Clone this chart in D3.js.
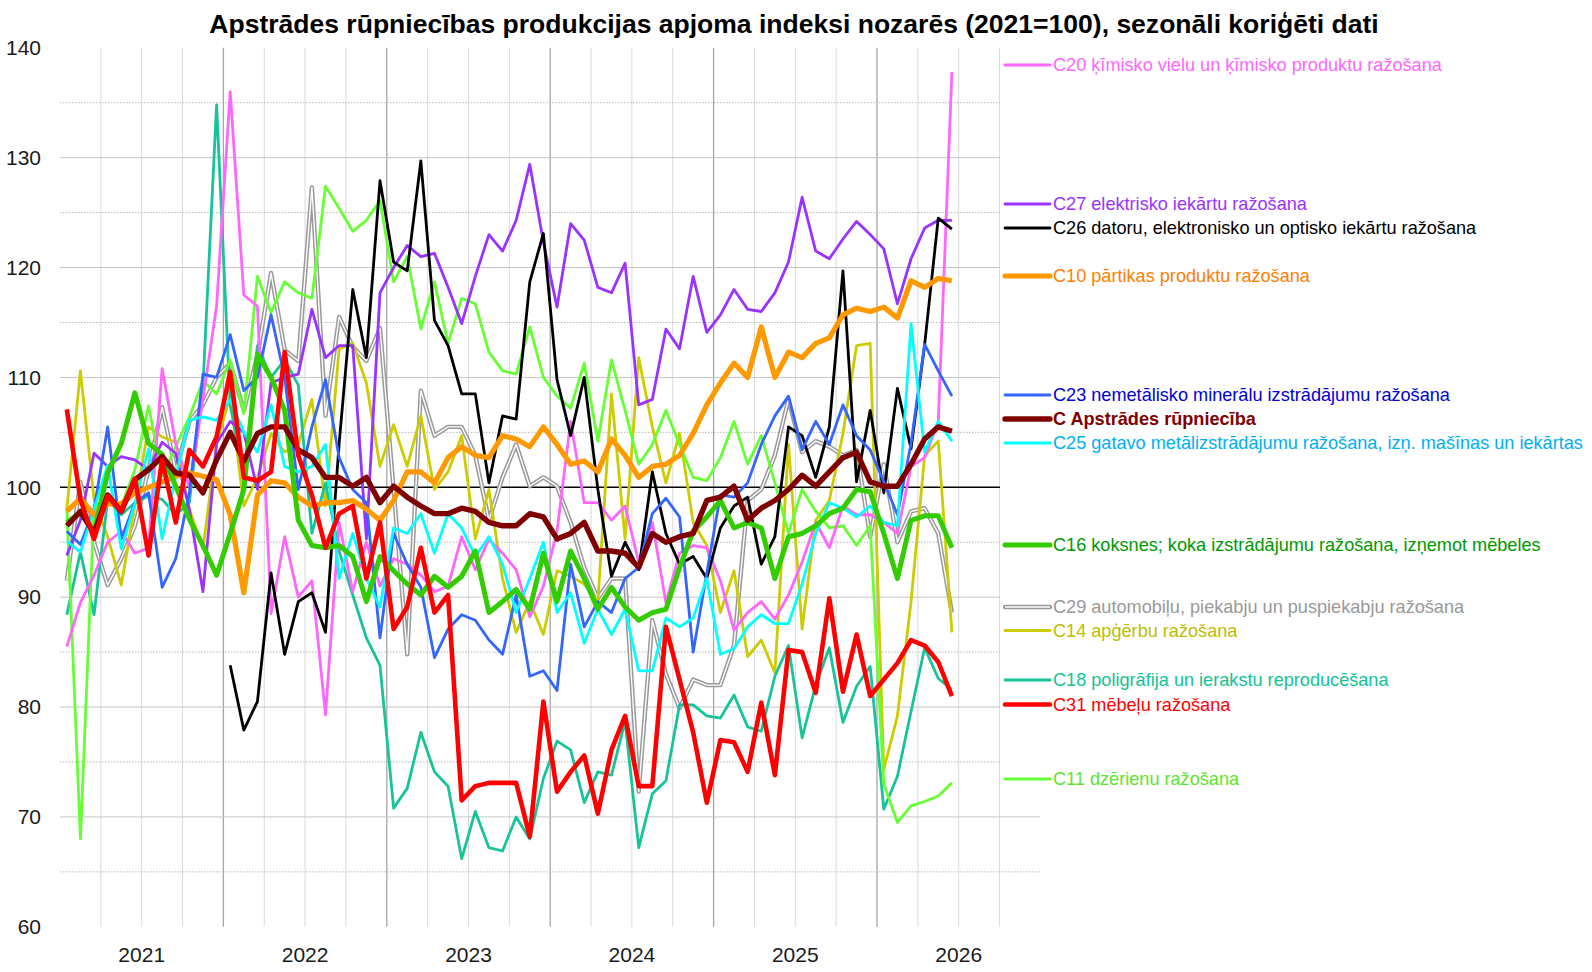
<!DOCTYPE html>
<html>
<head>
<meta charset="utf-8">
<script src="https://cdn.jsdelivr.net/npm/d3@7"></script>
<style>
  body { margin: 0; background: #fff; }
  svg { display: block; font-family: "Liberation Sans", Arial, sans-serif; }
</style>
</head>
<body>
<div id="chart"></div>
<script>
// Dati: mēneši no 2021. gada janvāra (66 vērtības), 2021=100
const years = ['2021', '2022', '2023', '2024', '2025', '2026'];
const yTicks = [60, 70, 80, 90, 100, 110, 120, 130, 140];

const c20 = [85.5, 89.5, 92, 95, 96, 94, 94.5, 110.8, 104, 100, 108, 116.5,
  136, 117.5, 116.5, 88.5, 95.5, 90, 91.5, 79.3, 96.8, 90.5, 95, 91,
  93.5, 93, 92, 90.5, 91, 95.5, 92.5, 95.3, 94, 92.5, 88.2, 91,
  96, 106, 98.6, 98.6, 97, 98.3, 93.2, 96.8, 89.5, 94, 94.7, 94.5,
  91.5, 87, 88.6, 89.6, 88, 90.2, 93.2, 96.8, 94.5, 98.3, 97.5, 97.5,
  96.8, 95.8, 101.9, 102.7, 106, 137.8];
const c27 = [93.8, 97, 103.1, 101.9, 102.8, 102.5, 101.6, 104.1, 103.1, 98, 90.5, 104,
  106, 105, 99.8, 109.5, 110, 110.3, 116.2, 111.8, 112.9, 112.9, 95.3, 117.7,
  120, 122, 121, 121.3, 118.2, 114.9, 119.2, 123, 121.5, 124.3, 129.4, 122.3,
  116.4, 124, 122.5, 118.2, 117.7, 120.4, 107.5, 108, 114.4, 112.6, 119.2, 114.1,
  115.7, 118, 116.2, 116, 117.7, 120.5, 126.4, 121.5, 120.8, 122.6, 124.2, 123,
  121.7, 116.7, 120.8, 123.6, 124.3, 124.3];
const c26 = [null, null, null, null, null, null, null, null, null, null, null, null,
  83.8, 77.9, 80.5, 92.2, 84.8, 89.6, 90.4, 86.8, 104, 118, 111.8, 127.9,
  120.5, 119.7, 129.7, 115.2, 112.9, 108.5, 108.5, 100.4, 106.5, 106.2, 118.7, 123.1,
  109.8, 104.7, 110, 99.8, 91.9, 95, 92.5, 101.4, 95.8, 93, 93.7, 91.7,
  96.3, 98.3, 99.1, 93, 95.5, 105.5, 104.7, 100.9, 105.5, 119.7, 100.5, 107,
  99.5, 109, 103.5, 113, 124.5, 123.5];
const c10 = [97.8, 99, 97.5, 98.5, 98.5, 99.5, 100, 100.5, 101, 101.3, 101, 100.7,
  97.5, 90.4, 99.3, 100.6, 100.4, 99.1, 98.3, 98.6, 98.6, 98.8, 98, 97,
  98.8, 101.4, 101.4, 100.4, 102.7, 103.7, 102.9, 102.7, 104.7, 104.4, 103.7, 105.5,
  103.9, 102.1, 102.4, 101.4, 104.4, 102.9, 100.9, 101.9, 102.1, 102.9, 104.9, 107.5,
  109.5, 111.3, 110, 114.6, 110, 112.3, 111.8, 113.1, 113.6, 115.7, 116.3, 116,
  116.4, 115.4, 118.8, 118.2, 119, 118.8];
const c23 = [96, 94.8, 98, 105.5, 95.3, 98.6, 99.5, 90.9, 93.5, 99.5, 110.3, 110,
  113.9, 108.8, 110, 115.7, 110, 99.8, 105.5, 109.8, 102.7, 99.8, 98.6, 86.3,
  95.8, 93, 90.9, 84.5, 87.1, 88.4, 87.9, 86.1, 84.8, 90.2, 82.8, 83.3,
  81.5, 93, 87.3, 89.6, 88.6, 91.7, 92.7, 97.6, 99, 97.3, 85, 92.2,
  99.3, 99.1, 100.4, 103.9, 106.5, 108.3, 103.4, 106, 103.9, 107.5, 104.7, 103.4,
  100.5, 97.5, 104, 113, 110.6, 108.3];
const cTotal = [96.5, 97.8, 95.8, 99.3, 97.8, 100.7, 101.6, 102.8, 101.3, 101.1, 99.5, 102.5,
  105, 102.4, 104.9, 105.5, 105.5, 103.4, 102.7, 100.9, 100.9, 100.1, 100.9, 98.6,
  100.1, 99.1, 98.3, 97.6, 97.6, 98.1, 97.8, 96.8, 96.5, 96.5, 97.6, 97.3,
  95.3, 95.8, 96.8, 94.2, 94.2, 94, 92.7, 95.8, 95, 95.5, 95.8, 98.8,
  99.1, 100.1, 97, 98.1, 98.8, 99.8, 101.1, 100.1, 101.4, 102.7, 103.2, 100.5,
  100.1, 100.1, 102.1, 104.4, 105.5, 105.1];
const c25 = [95.1, 94.1, 98, 102, 94.4, 98.5, 103.5, 95.3, 101, 106.1, 106.4, 106.1,
  108, 105, 103.2, 107.5, 101.9, 101.4, 101.9, 103.9, 91.7, 95.8, 91.7, 89.1,
  96.3, 95.8, 97.6, 94, 97.6, 96.3, 93.7, 95.5, 93, 88.6, 91.7, 95,
  88.6, 90.4, 85.8, 88.9, 86.6, 88.9, 83.3, 83.3, 88.1, 87.3, 88.1, 91.7,
  84.8, 85.3, 87.3, 88.4, 87.6, 87.6, 91.2, 95.8, 98.6, 98.1, 97.3, 98.3,
  96.8, 96.5, 114.9, 103.2, 106, 104.2];
const c16 = [96.8, 97.7, 95.9, 101.3, 104, 108.6, 104, 103, 100.1, 97.1, 94.7, 92,
  95.8, 99.8, 112.1, 110, 107, 97, 94.7, 94.5, 94.7, 93.7, 89.6, 93.7,
  92.4, 91.2, 90.2, 91.9, 90.9, 91.9, 94.2, 88.6, 89.6, 90.7, 88.9, 94,
  89.6, 94.2, 91.7, 88.9, 90.9, 89.1, 87.9, 88.6, 88.9, 92.7, 96, 97.3,
  98.8, 96.3, 96.8, 96.3, 91.7, 95.5, 95.8, 96.5, 97.6, 98.1, 99.8, 99.6,
  95.8, 91.7, 97, 97.4, 97.4, 94.5];
const c29 = [91.5, 100.5, 95, 91.1, 93.5, 96.5, 101.6, 107.3, 101.5, 106, 107.5, 110,
  111.3, 107, 112, 119.5, 112.5, 111.5, 127.3, 106.5, 115.5, 112.8, 111.5, 114.5,
  99.8, 84.8, 108.8, 104.7, 105.5, 105.5, 102.9, 97, 100.9, 103.9, 100.1, 100.9,
  100.1, 96.8, 92.7, 89.9, 91.7, 91.7, 72.3, 87.9, 83, 79.9, 82.5, 82,
  82, 85.6, 98.8, 99.8, 102.9, 108, 103.2, 104.2, 103.7, 102.9, 103.4, 95.5,
  102.1, 95, 97.8, 98.1, 95.8, 88.6];
const c14 = [98, 110.6, 98.9, 95.5, 91.1, 98.3, 105.5, 104.6, 104.1, 98, 94.4, 104,
  108.3, 98.3, 100.9, 104.9, 103.2, 103.9, 108, 98.3, 112.6, 113.1, 109.5, 101.9,
  105.7, 101.9, 106.5, 99.8, 101.4, 104.7, 95.3, 99.8, 91.7, 86.8, 89.6, 86.6,
  92.4, 91.9, 91.2, 89.6, 108.5, 95.3, 111.8, 105.5, 100.4, 104.9, 96.8, 94.7,
  88.6, 92.4, 84.6, 86.1, 83.1, 103.9, 87.1, 97, 98.8, 104.9, 112.9, 113.1,
  74.3, 79.2, 89.6, 102.9, 104.2, 86.8];
const c18 = [88.4, 94.1, 88.4, 98.9, 97.5, 98.6, 99.2, 98.9, 97.5, 98.6, 109.3, 134.8,
  107.5, 100.9, 112.9, 110, 111.6, 109.3, 95.8, 100.4, 94.2, 90.2, 86.3, 83.8,
  70.8, 72.6, 77.7, 74.1, 72.8, 66.2, 70.5, 67.2, 66.9, 70, 68, 73.5,
  76.9, 76.1, 71.3, 74.1, 73.8, 78.7, 67.2, 72.1, 73.3, 80.2, 80.2, 79.2,
  79, 81.1, 78.2, 77.8, 82.8, 85.6, 77.2, 82, 85.4, 78.6, 81.9, 83.7,
  70.7, 73.7, 79.6, 85.4, 82.6, 81.6];
const c31 = [107.1, 98.9, 95.3, 99.2, 97.8, 100.8, 93.8, 102.5, 96.8, 103.4, 101.9, 104.6,
  110.5, 100.9, 100.6, 101.4, 112.3, 102.9, 99.3, 94.5, 97.6, 98.3, 91.7, 96.8,
  87.1, 89.1, 94.5, 88.6, 90.2, 71.5, 72.8, 73.1, 73.1, 73.1, 68.2, 80.5,
  72.3, 74.1, 75.6, 70.3, 76.1, 79.2, 72.8, 72.8, 87.3, 82.5, 77.7, 71.3,
  77, 76.8, 74.1, 80.4, 73.8, 85.2, 85, 81.3, 89.9, 81.4, 86.6, 81,
  82.5, 84, 86.1, 85.6, 84.1, 81];
const c11 = [98.1, 68, 98.3, 98.9, 98.3, 101.6, 107.4, 101, 103.7, 106.4, 109.7, 108.5,
  111.6, 106.7, 119.2, 115.9, 118.7, 117.7, 117.2, 127.4, 125.4, 123.3, 124.3, 126.1,
  118.7, 121, 114.4, 118.7, 113.1, 117.2, 116.7, 112.3, 110.6, 110.3, 114.6, 110,
  108.3, 107.2, 111.3, 104.2, 111.6, 107, 102.1, 103.9, 107, 103.9, 100.9, 100.6,
  102.7, 106, 102.1, 104.7, 100.4, 95.8, 99.8, 97.8, 96.3, 96.5, 94.7, 96.5,
  73, 69.5, 71, 71.4, 71.9, 73.1];

// Sērijas leģendas secībā
const series = [
  { name: 'C20 ķīmisko vielu un ķīmisko produktu ražošana', values: c20, color: '#ff66ff', text: '#ff66ff', w: 2.8 },
  { name: 'C27 elektrisko iekārtu ražošana', values: c27, color: '#9933ff', text: '#9933ff', w: 2.8 },
  { name: 'C26 datoru, elektronisko un optisko iekārtu ražošana', values: c26, color: '#000000', text: '#000000', w: 2.8 },
  { name: 'C10 pārtikas produktu ražošana', values: c10, color: '#ff9900', text: '#ff8000', w: 5.2 },
  { name: 'C23 nemetālisko minerālu izstrādājumu ražošana', values: c23, color: '#3366ff', text: '#0000dd', w: 2.8 },
  { name: 'C Apstrādes rūpniecība', values: cTotal, color: '#800000', text: '#800000', w: 5.4, bold: true },
  { name: 'C25 gatavo metālizstrādājumu ražošana, izņ. mašīnas un iekārtas', values: c25, color: '#00ffff', text: '#00b0f0', w: 2.8 },
  { name: 'C16 koksnes; koka izstrādājumu ražošana, izņemot mēbeles', values: c16, color: '#33cc00', text: '#009900', w: 5 },
  { name: 'C29 automobiļu, piekabju un puspiekabju ražošana', values: c29, color: '#999999', text: '#999999', w: 4.4, double: true },
  { name: 'C14 apģērbu ražošana', values: c14, color: '#cccc00', text: '#bdbd00', w: 2.8 },
  { name: 'C18 poligrāfija un ierakstu reproducēšana', values: c18, color: '#17c498', text: '#11c495', w: 2.8 },
  { name: 'C31 mēbeļu ražošana', values: c31, color: '#ff0000', text: '#ff0000', w: 4.6 },
  { name: 'C11 dzērienu ražošana', values: c11, color: '#66ff33', text: '#5ce62e', w: 2.8 }
];
// leģendas rindu vertikālie centri (px)
const legendY = [65, 204, 228, 276, 395, 419, 443, 545, 607, 630.5, 680, 704.5, 779];
// zīmēšanas secība (apakšā -> augšā)
const drawOrder = [8, 9, 10, 12, 0, 1, 2, 4, 6, 3, 7, 5, 11];

const width = 1592, height = 972;
const plotLeft = 60, plotRight = 1040.4, plotTop = 47.8, plotBottom = 926.8;
const gridRight = 1000;

const svg = d3.select('#chart').append('svg')
  .attr('width', width)
  .attr('height', height);

const months = d3.range(72);
const x = d3.scaleBand().domain(months).range([plotLeft, plotRight]);
const xYear = d3.scaleBand().domain(years).range([plotLeft, plotRight]);
const y = d3.scaleLinear().domain([60, 140]).range([plotBottom, plotTop]);
const mx = i => x(i) + x.bandwidth() / 2;

// Vertikālās režģa līnijas (ceturkšņi, gadi)
const quarterEdges = d3.range(3, 70, 3);
svg.append('g').selectAll('line')
  .data(quarterEdges)
  .join('line')
  .attr('x1', d => x(d)).attr('x2', d => x(d))
  .attr('y1', plotTop).attr('y2', plotBottom)
  .attr('stroke', d => d % 12 === 0 ? '#a6a6a6' : '#dadada')
  .attr('stroke-width', d => d % 12 === 0 ? 1.3 : 1);

// Horizontālās režģa līnijas
const hLines = d3.range(65, 140, 5);
svg.append('g').selectAll('line')
  .data(hLines)
  .join('line')
  .attr('x1', plotLeft)
  .attr('x2', d => d <= 70 ? plotRight : gridRight)
  .attr('y1', d => y(d)).attr('y2', d => y(d))
  .attr('stroke', d => d === 100 ? '#000' : (d % 10 === 0 ? '#c4c4c4' : '#b8b8b8'))
  .attr('stroke-width', d => d === 100 ? 1.4 : 1)
  .attr('stroke-dasharray', d => d % 10 === 0 ? null : '1.5,1.5');

// Asis
const yAxis = svg.append('g')
  .attr('transform', `translate(${plotLeft},0)`)
  .call(d3.axisLeft(y).tickValues(yTicks).tickSize(0).tickPadding(19));
yAxis.select('.domain').remove();
yAxis.selectAll('text')
  .attr('font-size', 21)
  .attr('fill', '#1a1a1a')
  .attr('font-family', '"Liberation Sans", Arial, sans-serif');

const xAxis = svg.append('g')
  .attr('transform', `translate(0,${plotBottom})`)
  .call(d3.axisBottom(xYear).tickSize(0).tickPadding(20));
xAxis.select('.domain').remove();
xAxis.selectAll('text')
  .attr('font-size', 21)
  .attr('fill', '#1a1a1a')
  .attr('font-family', '"Liberation Sans", Arial, sans-serif');

// Līnijas
const line = d3.line()
  .defined(d => d != null)
  .x((d, i) => mx(i))
  .y(d => y(d));

const linesG = svg.append('g');
drawOrder.forEach(k => {
  const s = series[k];
  linesG.append('path')
    .datum(s.values)
    .attr('fill', 'none')
    .attr('stroke', s.color)
    .attr('stroke-width', s.w)
    .attr('stroke-linejoin', 'round')
    .attr('d', line);
  if (s.double) {
    linesG.append('path')
      .datum(s.values)
      .attr('fill', 'none')
      .attr('stroke', '#fff')
      .attr('stroke-width', 1.4)
      .attr('stroke-linejoin', 'round')
      .attr('d', line);
  }
});

// Leģenda (balts fons virs režģa labajā pusē)
svg.append('rect')
  .attr('x', gridRight + 1.5).attr('y', 40)
  .attr('width', width - gridRight).attr('height', 752)
  .attr('fill', '#fff');

const leg = svg.append('g');
series.forEach((s, k) => {
  const ly = legendY[k];
  leg.append('line')
    .attr('x1', 1005).attr('x2', 1050)
    .attr('y1', ly).attr('y2', ly)
    .attr('stroke', s.color)
    .attr('stroke-width', s.w)
    .attr('stroke-linecap', 'round');
  if (s.double) {
    leg.append('line')
      .attr('x1', 1005).attr('x2', 1050)
      .attr('y1', ly).attr('y2', ly)
      .attr('stroke', '#fff')
      .attr('stroke-width', 1.4);
  }
  leg.append('text')
    .attr('class', 'leg')
    .attr('x', 1053).attr('y', ly)
    .attr('dy', '0.35em')
    .attr('fill', s.text)
    .attr('font-weight', s.bold ? 'bold' : null)
    .attr('font-size', 17)
    .text(s.name);
});

// Virsraksts
const title = svg.append('text')
  .attr('x', 794).attr('y', 33)
  .attr('text-anchor', 'middle')
  .attr('font-weight', 'bold')
  .attr('font-size', 24)
  .attr('fill', '#000')
  .text('Apstrādes rūpniecības produkcijas apjoma indeksi nozarēs (2021=100), sezonāli koriģēti dati');

// pielāgo virsraksta un leģendas izmēru oriģinālajam platumam
const tw = title.node().getComputedTextLength();
title.attr('font-size', 24 * 1170 / tw);
const lw = leg.select('text.leg').node().getComputedTextLength();
leg.selectAll('text.leg').attr('font-size', 17 * 389 / lw);
</script>
</body>
</html>
